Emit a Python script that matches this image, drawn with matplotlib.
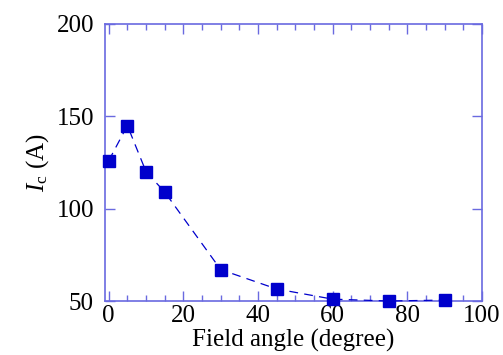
import numpy as np
import matplotlib
matplotlib.use('Agg')
import matplotlib.pyplot as plt
from matplotlib.ticker import MultipleLocator

plt.rcParams['font.family'] = ['Liberation Serif', 'DejaVu Serif']
plt.rcParams['mathtext.fontset'] = 'custom'
plt.rcParams['mathtext.rm'] = 'Liberation Serif'
plt.rcParams['mathtext.it'] = 'Liberation Serif:italic'

# Field angle (degree) vs critical current Ic (A)
angle = [0, 5, 10, 15, 30, 45, 60, 75, 90]
ic = [126, 145, 120, 109, 67, 56.5, 51, 50, 50.5]

axis_color = '#6a6ae0'
line_color = '#0000cc'

fig = plt.figure(figsize=(5.03, 3.55), dpi=100)
ax = fig.add_axes([105/503, 54/355, 377/503, 277/355])

ax.plot(angle, ic, linestyle=(0, (7, 5)), color=line_color, linewidth=0.9,
        marker='s', markersize=9, markerfacecolor=line_color,
        markeredgecolor=line_color, clip_on=False, zorder=3)

ax.set_xlim(-1, 100)
ax.set_ylim(50, 200)
ax.xaxis.set_major_locator(MultipleLocator(20))
ax.xaxis.set_minor_locator(MultipleLocator(5))
ax.yaxis.set_major_locator(MultipleLocator(50))
ax.yaxis.set_minor_locator(MultipleLocator(50))

for s in ax.spines.values():
    s.set_color(axis_color)
    s.set_linewidth(1.2)

ax.tick_params(which='both', direction='in', top=True, right=True,
               color=axis_color, labelsize=18)
ax.tick_params(axis='x', pad=3)
ax.tick_params(axis='y', pad=8)
ax.tick_params(which='major', length=7, width=1.0)
ax.tick_params(which='minor', length=4, width=1.0)

ax.set_xlabel('Field angle (degree)', fontsize=18, labelpad=1)
ax.set_ylabel(r'$I$$_{\mathrm{c}}$ (A)', fontsize=18, labelpad=4)

fig.savefig('out.png', dpi=100)
